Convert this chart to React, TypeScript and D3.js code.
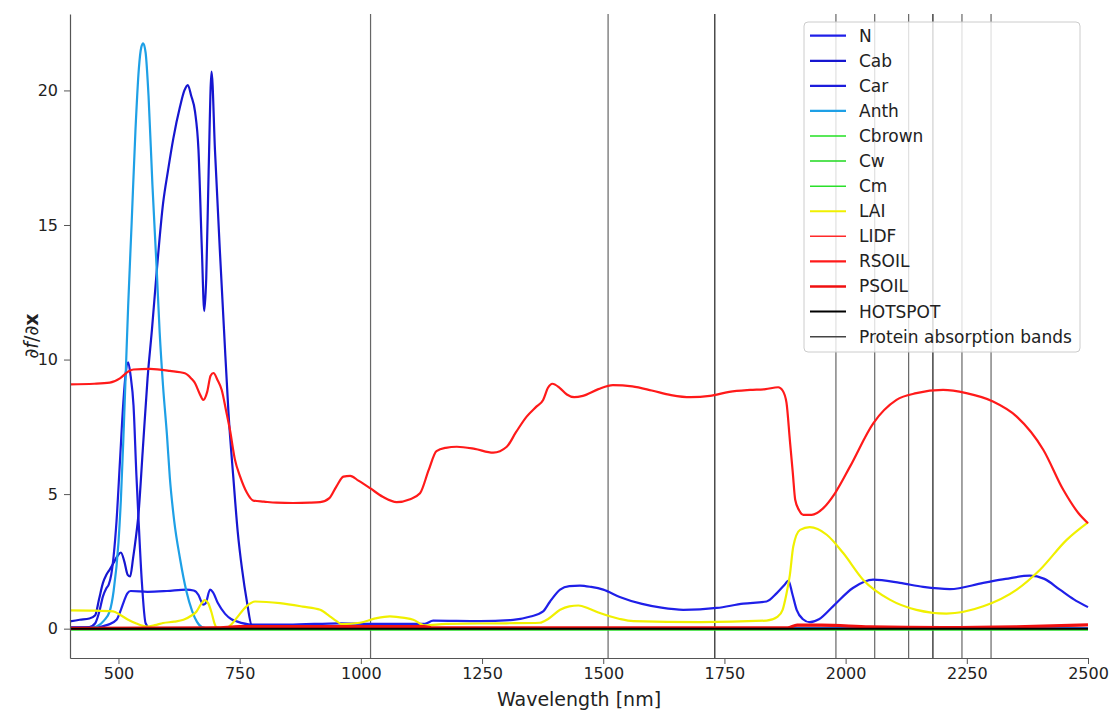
import React, { useEffect, useRef } from 'react';
import * as d3 from 'd3';

// wavelength [nm], derivative value pairs
const nData: [number, number][] = [
  [400, 0.05], [451, 0.05], [479, 0.15], [496, 0.33], [505, 0.7], [512, 1.05], [518, 1.3], [525, 1.4],
  [560, 1.37], [600, 1.4], [640, 1.45], [655, 1.42], [665, 1.25], [671, 1.0], [675, 0.89], [680, 0.95],
  [689, 1.45], [695, 1.35], [705, 0.95], [720, 0.55], [733, 0.35], [744, 0.27], [775, 0.15], [850, 0.15],
  [957, 0.2], [1019, 0.18], [1132, 0.18], [1149, 0.3], [1246, 0.28], [1314, 0.33], [1350, 0.45],
  [1376, 0.64], [1390, 1.0], [1411, 1.45], [1430, 1.58], [1452, 1.6], [1475, 1.55], [1500, 1.45],
  [1534, 1.18], [1580, 0.92], [1620, 0.78], [1665, 0.7], [1734, 0.77], [1789, 0.93], [1837, 1.01],
  [1858, 1.32], [1875, 1.65], [1882, 1.79], [1890, 1.3], [1899, 0.7], [1912, 0.35], [1926, 0.24],
  [1945, 0.35], [1974, 0.83], [2015, 1.51], [2057, 1.82], [2112, 1.7], [2160, 1.55], [2215, 1.47],
  [2284, 1.7], [2330, 1.85], [2380, 1.97], [2410, 1.85], [2442, 1.45], [2470, 1.1], [2500, 0.8],
];

const cabData: [number, number][] = [
  [400, 0.27], [420, 0.33], [440, 0.38], [452, 0.5], [460, 1.1], [468, 1.7], [475, 2.0], [482, 2.2],
  [490, 2.45], [498, 2.7], [505, 2.83], [512, 2.5], [519, 2.0], [524, 1.94], [530, 2.6], [536, 3.4],
  [541, 4.2], [550, 6.6], [560, 9.3], [569, 11.1], [579, 13.3], [592, 15.8], [602, 17.0], [613, 18.2],
  [627, 19.4], [636, 20.0], [643, 20.2], [650, 19.8], [658, 19.2], [665, 17.8], [672, 14.1], [677, 11.8],
  [681, 13.0], [686, 17.0], [692, 20.7], [699, 17.8], [709, 14.1], [718, 11.0], [727, 8.0], [737, 5.6],
  [746, 3.6], [755, 2.2], [765, 1.0], [775, 0.12], [800, 0.06], [1130, 0.05], [1150, 0.02], [2500, 0.01],
];

const carData: [number, number][] = [
  [400, 0.04], [440, 0.06], [452, 0.2], [460, 0.6], [468, 1.2], [475, 1.5], [480, 1.65], [485, 2.0],
  [490, 2.7], [496, 4.0], [503, 6.2], [510, 8.4], [515, 9.5], [520, 9.9], [525, 9.4], [531, 8.3],
  [537, 5.7], [541, 4.2], [548, 1.8], [556, 0.2], [565, 0.02], [2500, 0.0],
];

const anthData: [number, number][] = [
  [400, 0.01], [440, 0.02], [455, 0.08], [470, 0.3], [482, 0.65], [490, 1.4], [500, 3.2], [505, 4.8],
  [510, 7.0], [515, 9.5], [520, 12.0], [527, 15.0], [535, 18.5], [542, 20.8], [547, 21.6], [551, 21.75],
  [556, 21.4], [562, 19.8], [570, 16.5], [579, 13.3], [585, 11.0], [592, 9.0], [600, 7.2], [606, 5.6],
  [615, 4.0], [627, 2.6], [640, 1.4], [652, 0.65], [662, 0.25], [672, 0.06], [690, 0.0], [2500, 0.0],
];

const cbrownData: [number, number][] = [[400, -0.03], [1000, -0.03], [2500, -0.03]];
const cwData: [number, number][] = [[400, -0.04], [1400, -0.04], [2500, -0.04]];
const cmData: [number, number][] = [[400, -0.03], [1500, -0.03], [2500, -0.03]];

const laiData: [number, number][] = [
  [400, 0.68], [450, 0.67], [489, 0.64], [503, 0.52], [520, 0.33], [537, 0.19], [558, 0.08], [575, 0.13],
  [592, 0.21], [615, 0.26], [634, 0.33], [650, 0.48], [661, 0.64], [670, 0.9], [678, 1.06], [685, 0.95],
  [692, 0.6], [698, 0.2], [703, 0.04], [722, 0.03], [735, 0.2], [744, 0.4], [764, 0.83], [782, 1.01],
  [833, 0.95], [880, 0.82], [916, 0.7], [936, 0.46], [950, 0.28], [960, 0.17], [998, 0.22], [1030, 0.38],
  [1060, 0.46], [1090, 0.4], [1108, 0.33], [1132, 0.12], [1176, 0.18], [1300, 0.2], [1369, 0.22],
  [1387, 0.37], [1411, 0.7], [1430, 0.83], [1449, 0.86], [1470, 0.75], [1493, 0.58], [1534, 0.36],
  [1562, 0.28], [1700, 0.24], [1837, 0.3], [1860, 0.45], [1870, 0.7], [1878, 1.3], [1885, 2.0],
  [1892, 3.05], [1906, 3.67], [1926, 3.77], [1961, 3.49], [1995, 2.81], [2036, 1.82], [2091, 1.08],
  [2146, 0.7], [2208, 0.56], [2284, 0.83], [2353, 1.45], [2401, 2.19], [2456, 3.3], [2500, 3.95],
];

const lidfData: [number, number][] = [
  [400, 0.0], [650, 0.02], [750, 0.06], [1130, 0.06], [1150, 0.02], [1880, 0.02], [1900, 0.1],
  [1950, 0.1], [2100, 0.04], [2300, 0.04], [2500, 0.12],
];

const rsoilData: [number, number][] = [
  [400, 9.08], [450, 9.1], [482, 9.14], [503, 9.3], [520, 9.55], [531, 9.63], [565, 9.65], [606, 9.58],
  [637, 9.49], [650, 9.3], [658, 9.12], [667, 8.75], [675, 8.5], [683, 8.8], [690, 9.4], [696, 9.5],
  [704, 9.25], [713, 8.87], [722, 8.1], [730, 7.38], [740, 6.3], [751, 5.65], [765, 5.05], [778, 4.76],
  [800, 4.72], [826, 4.68], [860, 4.67], [895, 4.68], [916, 4.7], [935, 4.85], [950, 5.3], [964, 5.65],
  [978, 5.68], [995, 5.5], [1019, 5.22], [1045, 4.9], [1074, 4.7], [1100, 4.8], [1122, 5.03],
  [1140, 5.9], [1156, 6.6], [1175, 6.72], [1198, 6.76], [1235, 6.68], [1273, 6.54], [1301, 6.76],
  [1320, 7.3], [1342, 7.88], [1362, 8.25], [1376, 8.5], [1386, 8.95], [1395, 9.1], [1410, 8.95],
  [1425, 8.7], [1440, 8.6], [1458, 8.65], [1490, 8.9], [1520, 9.05], [1560, 9.0], [1600, 8.85],
  [1640, 8.68], [1680, 8.6], [1720, 8.65], [1760, 8.8], [1803, 8.87], [1835, 8.9], [1861, 8.97],
  [1870, 8.85], [1878, 8.4], [1885, 7.0], [1891, 5.8], [1896, 4.79], [1904, 4.4], [1913, 4.23],
  [1930, 4.23], [1954, 4.48], [1978, 5.03], [2009, 6.02], [2057, 7.63], [2105, 8.5], [2146, 8.75],
  [2201, 8.87], [2249, 8.75], [2304, 8.44], [2353, 7.88], [2408, 6.64], [2449, 5.16], [2480, 4.3],
  [2500, 3.92],
];

const psoilData: [number, number][] = [
  [400, 0.02], [700, 0.03], [750, 0.08], [1130, 0.08], [1150, 0.03], [1880, 0.03], [1900, 0.14],
  [1950, 0.14], [2050, 0.07], [2200, 0.04], [2350, 0.07], [2500, 0.15],
];

const hotspotData: [number, number][] = [[400, 0.0], [2500, 0.0]];

const proteinBands = [1020, 1510, 1730, 1730, 1980, 2060, 2130, 2180, 2180, 2240, 2300];

const xTicks = [500, 750, 1000, 1250, 1500, 1750, 2000, 2250, 2500];
const yTicks = [0, 5, 10, 15, 20];

const series = [
  { name: 'N', data: nData, color: '#1f1fe8', width: 2.2 },
  { name: 'Cab', data: cabData, color: '#1616d0', width: 2.2 },
  { name: 'Car', data: carData, color: '#1c1cdc', width: 2.2 },
  { name: 'Anth', data: anthData, color: '#1ea0e6', width: 2.2 },
  { name: 'Cbrown', data: cbrownData, color: '#22e022', width: 1.5 },
  { name: 'Cw', data: cwData, color: '#1ed81e', width: 1.5 },
  { name: 'Cm', data: cmData, color: '#2ae02a', width: 1.5 },
  { name: 'LAI', data: laiData, color: '#f0f000', width: 2.2 },
  { name: 'LIDF', data: lidfData, color: '#ff2a2a', width: 1.5 },
  { name: 'RSOIL', data: rsoilData, color: '#ff1a1a', width: 2.2 },
  { name: 'PSOIL', data: psoilData, color: '#f01010', width: 3 },
  { name: 'HOTSPOT', data: hotspotData, color: '#000000', width: 2 },
];

export default function App() {
  const svgRef = useRef<SVGSVGElement>(null);

  useEffect(() => {
    const width = 1111;
    const height = 710;
    const margin = { top: 14, right: 23, bottom: 52, left: 70 };

    const svg = d3.select(svgRef.current);
    svg.selectAll('*').remove();

    const x = d3.scaleLinear().domain([400, 2500]).range([margin.left, width - margin.right]);
    const y = d3.scaleLinear().domain([-1.09, 22.84]).range([height - margin.bottom, margin.top]);

    const font = 'DejaVu Sans, sans-serif';

    // protein absorption bands
    svg.append('g')
      .selectAll('line')
      .data(proteinBands)
      .enter().append('line')
      .attr('x1', d => x(d)).attr('x2', d => x(d))
      .attr('y1', margin.top).attr('y2', height - margin.bottom)
      .attr('stroke', '#333')
      .attr('stroke-opacity', 0.75)
      .attr('stroke-width', 1.2);

    const line = d3.line<[number, number]>()
      .x(d => x(d[0]))
      .y(d => y(d[1]))
      .curve(d3.curveMonotoneX);

    svg.append('g')
      .selectAll('path')
      .data(series)
      .enter().append('path')
      .attr('fill', 'none')
      .attr('stroke', d => d.color)
      .attr('stroke-width', d => d.width)
      .attr('stroke-linejoin', 'round')
      .attr('d', d => line(d.data));

    // axes
    const xAxis = svg.append('g')
      .attr('transform', `translate(0,${height - margin.bottom})`)
      .call(d3.axisBottom(x).tickValues(xTicks).tickSizeInner(6).tickSizeOuter(0).tickPadding(4).tickFormat(d3.format('d')));
    xAxis.select('.domain').attr('stroke', '#555').attr('stroke-width', 1.2);
    xAxis.selectAll('line').attr('stroke', '#555');
    xAxis.selectAll('text').attr('fill', '#222').style('font-size', '16px').style('font-family', font);

    const yAxis = svg.append('g')
      .attr('transform', `translate(${margin.left},0)`)
      .call(d3.axisLeft(y).tickValues(yTicks).tickSizeInner(6).tickSizeOuter(0).tickPadding(6));
    yAxis.select('.domain').attr('stroke', '#555').attr('stroke-width', 1.2);
    yAxis.selectAll('line').attr('stroke', '#555');
    yAxis.selectAll('text').attr('fill', '#222').style('font-size', '16px').style('font-family', font);

    svg.append('text')
      .attr('x', (margin.left + width - margin.right) / 2)
      .attr('y', 706)
      .attr('text-anchor', 'middle')
      .style('font-size', '19px')
      .style('font-family', font)
      .attr('fill', '#222')
      .text('Wavelength [nm]');

    const yl = svg.append('text')
      .attr('transform', `translate(38,${(margin.top + height - margin.bottom) / 2}) rotate(-90)`)
      .attr('text-anchor', 'middle')
      .style('font-size', '19px')
      .style('font-family', font)
      .attr('fill', '#222');
    yl.append('tspan').text('∂');
    yl.append('tspan').attr('font-style', 'italic').text('f');
    yl.append('tspan').text('/∂');
    yl.append('tspan').attr('font-weight', 'bold').text('x');

    // legend
    const legendItems = [
      ...series.map(s => ({ name: s.name, color: s.color, width: s.width })),
      { name: 'Protein absorption bands', color: '#444', width: 1.5 },
    ];
    const lg = svg.append('g');
    lg.append('rect')
      .attr('x', 804).attr('y', 22)
      .attr('width', 276).attr('height', 330)
      .attr('rx', 4)
      .attr('fill', 'white').attr('fill-opacity', 0.8)
      .attr('stroke', '#cccccc');
    const rows = lg.selectAll('g.row')
      .data(legendItems)
      .enter().append('g')
      .attr('transform', (_, i) => `translate(0,${35.7 + i * 25.08})`);
    rows.append('line')
      .attr('x1', 810).attr('x2', 846)
      .attr('stroke', d => d.color)
      .attr('stroke-width', d => Math.min(d.width, 2.5));
    rows.append('text')
      .attr('x', 859)
      .attr('dy', '0.35em')
      .style('font-size', '17px')
      .style('font-family', font)
      .attr('fill', '#222')
      .text(d => d.name);
  }, []);

  return (
    <svg
      ref={svgRef}
      width={1111}
      height={710}
      style={{ position: 'absolute', left: 0, top: 0, background: 'white' }}
    />
  );
}
